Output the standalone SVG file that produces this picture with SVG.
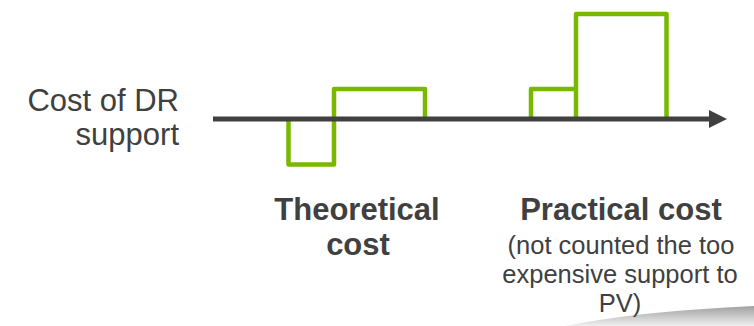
<svg xmlns="http://www.w3.org/2000/svg" width="754" height="326" viewBox="0 0 754 326">
<style>
.bar{fill:none;stroke:#7ab800;stroke-width:4.5;stroke-linejoin:round;stroke-linecap:butt}
.axis{fill:none;stroke:#404040;stroke-width:5}
.lbl{font-family:"Liberation Sans",Arial,sans-serif;fill:#404040}
.b{font-weight:bold;font-size:31px}
.r{font-size:31px}
.s{font-size:25.5px}
</style>
<defs>
<marker id="arr" markerUnits="userSpaceOnUse" markerWidth="18" markerHeight="18" refX="0" refY="9" orient="auto">
<path d="M0,0 L18,9 L0,18 z" fill="#404040"/>
</marker>
<linearGradient id="sh" x1="0" y1="0" x2="0" y2="1">
<stop offset="0" stop-color="#a0a0a0"/>
<stop offset="1" stop-color="#f0f0f0"/>
</linearGradient>
</defs>
<rect width="754" height="326" fill="#ffffff"/>
<path d="M565,326 Q640,311 754,306 L754,326 Z" fill="url(#sh)"/>
<g id="theoretical-bars">
<path class="bar" d="M288.5,119 V164.5 H334 V89 H425 V119"/>
</g>
<g id="practical-bars">
<path class="bar" d="M531,119 V89 H576 V14 H666.5 V119"/>
<path class="bar" d="M576,89 V119"/>
</g>
<g id="connectors">
<line class="axis" x1="213" y1="119" x2="709" y2="119" marker-end="url(#arr)"/>
</g>
<g id="y-label">
<text class="lbl r" text-anchor="end" x="179" y="111">Cost of DR</text>
<text class="lbl r" text-anchor="end" x="179" y="145">support</text>
</g>
<g id="theoretical-label">
<text class="lbl b" text-anchor="middle" x="357" y="220">Theoretical</text>
<text class="lbl b" text-anchor="middle" x="358" y="255">cost</text>
</g>
<g id="practical-label">
<text class="lbl b" text-anchor="middle" x="621" y="220">Practical cost</text>
<text class="lbl s" text-anchor="middle" x="621" y="254">(not counted the too</text>
<text class="lbl s" text-anchor="middle" x="620" y="283">expensive support to</text>
<text class="lbl s" text-anchor="middle" x="620" y="312">PV)</text>
</g>
</svg>
